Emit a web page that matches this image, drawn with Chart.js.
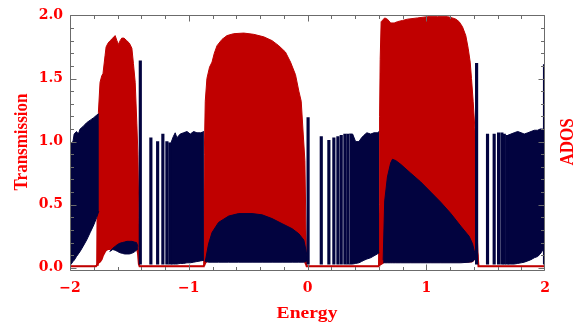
<!DOCTYPE html>
<html>
<head>
<meta charset="utf-8">
<script src="https://cdn.jsdelivr.net/npm/chart.js@4.4.1/dist/chart.umd.min.js"></script>
<style>
html,body{margin:0;padding:0;background:#fff;}
#wrap{width:576px;height:324px;position:relative;}
</style>
</head>
<body>
<div id="wrap"><canvas id="c" width="576" height="324"></canvas></div>
<script>
// ---------- tick labels ----------
const xTickValues = [-2, -1, 0, 1, 2];
const xTickLabels = ['\u22122', '\u22121', '0', '1', '2'];
const yTickValues = [0, 0.5, 1, 1.5, 2];
const yTickLabels = ['0.0', '0.5', '1.0', '1.5', '2.0'];

// ---------- Transmission (red): envelope of the rapidly oscillating curve ----------
const transE = [-2.000,-1.782,-1.775,-1.771,-1.766,-1.761,-1.747,-1.733,-1.722,-1.705,-1.696,-1.680,-1.662,-1.640,-1.620,-1.605,-1.592,-1.578,-1.564,-1.545,-1.522,-1.500,-1.479,-1.466,-1.451,-1.437,-1.428,-1.420,-1.414,
  -0.879,-0.874,-0.869,-0.861,-0.847,-0.825,-0.804,-0.785,-0.762,-0.720,-0.678,-0.622,-0.537,-0.453,-0.368,-0.298,-0.242,-0.186,-0.143,-0.101,-0.073,-0.053,-0.036,-0.022,-0.013,-0.007,
  0.598,0.603,0.607,0.612,0.620,0.650,0.673,0.700,0.730,0.757,0.800,0.841,0.926,1.010,1.095,1.179,1.221,1.250,1.277,1.305,1.333,1.353,1.370,1.381,1.395,1.409,1.424,1.432,1.440,2.000];
const transLow = [0.012,0.012,0.02,0.025,0.03,0.04,0.05,0.07,0.10,0.13,0.14,0.15,0.15,0.155,0.155,0.15,0.145,0.14,0.135,0.13,0.13,0.13,0.135,0.14,0.15,0.155,0.12,0.03,0.012,
  0.012,0.015,0.02,0.04,0.055,0.055,0.055,0.055,0.055,0.055,0.055,0.055,0.055,0.055,0.055,0.055,0.055,0.055,0.055,0.055,0.055,0.055,0.055,0.05,0.03,0.012,
  0.012,0.02,0.025,0.03,0.03,0.05,0.05,0.05,0.05,0.05,0.05,0.05,0.05,0.05,0.05,0.05,0.05,0.05,0.05,0.05,0.05,0.05,0.05,0.05,0.06,0.09,0.14,0.10,0.012,0.012];
const transHigh = [0.012,0.012,0.03,0.60,1.05,1.23,1.47,1.52,1.54,1.68,1.75,1.78,1.80,1.82,1.84,1.80,1.77,1.80,1.82,1.82,1.80,1.78,1.74,1.62,1.47,1.14,0.90,0.40,0.012,
  0.012,0.30,0.90,1.32,1.50,1.59,1.63,1.70,1.76,1.81,1.84,1.855,1.86,1.85,1.83,1.80,1.76,1.71,1.63,1.53,1.40,1.32,1.06,0.85,0.30,0.012,
  0.012,0.50,1.20,1.65,1.95,1.98,1.97,1.94,1.94,1.95,1.96,1.97,1.98,1.99,1.99,1.99,1.98,1.97,1.95,1.91,1.84,1.74,1.63,1.50,1.32,1.11,0.85,0.20,0.012,0.012];

// ---------- ADOS (navy): envelopes of the dense parts ----------
const adosA_E    = [-2.00,-1.99,-1.975,-1.965,-1.945,-1.93,-1.915,-1.89,-1.86,-1.83,-1.80,-1.775,-1.757];
const adosA_high = [0.97,0.99,1.00,1.06,1.08,1.06,1.10,1.12,1.15,1.17,1.19,1.21,1.22];
const adosA_low  = [0.02,0.03,0.05,0.06,0.09,0.11,0.13,0.17,0.22,0.28,0.34,0.40,0.45];

const adosB_E    = [-1.665,-1.64,-1.62,-1.60,-1.58,-1.56,-1.54,-1.52,-1.50,-1.48,-1.46,-1.44,-1.428];
const adosB_high = [0.13,0.155,0.17,0.185,0.195,0.20,0.205,0.21,0.21,0.21,0.205,0.20,0.17];
const adosB_low  = [0.13,0.145,0.14,0.13,0.12,0.115,0.11,0.11,0.11,0.115,0.125,0.14,0.15];

const adosC_E    = [-1.150,-1.13,-1.114,-1.10,-1.072,-1.044,-1.015,-0.987,-0.959,-0.931,-0.90,-0.872];
const adosC_high = [0.99,1.04,1.07,1.03,1.06,1.07,1.08,1.06,1.08,1.07,1.07,1.08];
const adosC_low  = [0.03,0.03,0.03,0.03,0.035,0.035,0.04,0.04,0.045,0.05,0.055,0.06];

const adosD_E    = [-0.861,-0.833,-0.804,-0.749,-0.664,-0.580,-0.467,-0.382,-0.298,-0.214,-0.129,-0.073,-0.031,-0.011,-0.003];
const adosD_high = [0.05,0.19,0.28,0.36,0.41,0.43,0.43,0.42,0.39,0.35,0.31,0.27,0.22,0.13,0.08];
const adosD_low  = [0.05,0.045,0.045,0.045,0.045,0.045,0.045,0.045,0.045,0.045,0.045,0.045,0.045,0.05,0.06];

const adosE_E    = [0.352,0.38,0.405,0.433,0.455,0.475,0.50,0.532,0.56,0.588,0.604];
const adosE_high = [1.06,1.06,1.00,1.00,1.03,1.05,1.07,1.06,1.07,1.07,1.08];
const adosE_low  = [0.03,0.03,0.035,0.04,0.05,0.06,0.07,0.08,0.095,0.11,0.12];

const adosF_E    = [0.637,0.650,0.673,0.700,0.715,0.743,0.785,0.869,0.954,1.038,1.122,1.207,1.291,1.361,1.390,1.403,1.418];
const adosF_high = [0.06,0.53,0.72,0.83,0.86,0.85,0.82,0.75,0.68,0.60,0.52,0.43,0.33,0.25,0.19,0.14,0.09];
const adosF_low  = [0.04,0.04,0.04,0.04,0.04,0.04,0.04,0.04,0.04,0.04,0.04,0.04,0.04,0.045,0.05,0.06,0.09];

const adosG_E    = [1.686,1.713,1.74,1.77,1.80,1.825,1.855,1.882,1.91,1.938,1.96,1.981,1.993];
const adosG_high = [1.05,1.06,1.07,1.08,1.07,1.06,1.07,1.08,1.09,1.09,1.10,1.10,1.11];
const adosG_low  = [0.03,0.03,0.03,0.035,0.04,0.045,0.055,0.065,0.08,0.09,0.11,0.14,0.17];

// isolated ADOS peaks inside the gaps
const spikeE    = [-1.408,-1.319,-1.262,-1.218,-1.184,-1.159,0.005,0.116,0.180,0.222,0.256,0.284,0.315,0.340,1.424,1.516,1.572,1.609,1.637,1.657,1.679,1.996];
const spikeTop  = [1.64,1.03,1.00,1.06,1.00,0.99,1.19,1.04,1.01,1.03,1.04,1.05,1.06,1.06,1.62,1.06,1.06,1.07,1.07,1.06,1.05,1.61];
const spikeBase = 0.03;

// ---------- styles ----------
const NAVY = '#02033f';
const RED = '#c00000';
const TEXT = '#ff0000';
const FRAME = '#6b6b6b';

const pts = (E, V) => E.map((e, i) => ({x: e, y: V[i]}));
const datasets = [];
datasets.push({type: 'line', label: 'T-low', data: pts(transE, transLow), borderColor: RED, borderWidth: 2,
  pointRadius: 0, tension: 0, fill: false, order: 100});
datasets.push({type: 'line', label: 'Transmission', data: pts(transE, transHigh), borderColor: RED, borderWidth: 1,
  backgroundColor: RED, pointRadius: 0, tension: 0, fill: 0, order: 99});

const adosBands = [
  [adosA_E, adosA_low, adosA_high], [adosB_E, adosB_low, adosB_high], [adosC_E, adosC_low, adosC_high],
  [adosD_E, adosD_low, adosD_high], [adosE_E, adosE_low, adosE_high], [adosF_E, adosF_low, adosF_high],
  [adosG_E, adosG_low, adosG_high]
];
adosBands.forEach(([E, lo, hi]) => {
  const iLow = datasets.length;
  datasets.push({type: 'line', label: 'A-low', data: pts(E, lo), borderColor: NAVY, borderWidth: 1,
    pointRadius: 0, tension: 0, fill: false, order: 50});
  datasets.push({type: 'line', label: 'ADOS', data: pts(E, hi), borderColor: NAVY, borderWidth: 1,
    backgroundColor: NAVY, pointRadius: 0, tension: 0, fill: iLow, order: 49});
});
datasets.push({type: 'bar', label: 'ADOS peaks', data: spikeE.map((e, i) => ({x: e, y: [spikeBase, spikeTop[i]]})),
  backgroundColor: NAVY, borderWidth: 0, barThickness: 2.5, grouped: false, order: 1});

const tickFont = {family: 'DejaVu Serif', weight: 'bold', size: 14};

const decor = {
  id: 'decor',
  afterDraw(chart) {
    const {ctx, chartArea: a, scales: {x, y}} = chart;
    ctx.save();
    ctx.strokeStyle = FRAME;
    ctx.lineWidth = 1;
    ctx.beginPath();
    const L = Math.round(a.left) + 0.5, R = Math.round(a.right) - 0.5;
    const T = Math.round(a.top) + 0.5, B = Math.round(a.bottom) - 0.5;
    for (let k = 0; k <= 20; k++) {
      const v = -2 + k * 0.2;
      let px = Math.round(x.getPixelForValue(v)) + 0.5;
      px = Math.min(Math.max(px, L), R);
      const len = (k % 5 === 0) ? 6 : 3.5;
      ctx.moveTo(px, B); ctx.lineTo(px, B - len);
      ctx.moveTo(px, T); ctx.lineTo(px, T + len);
    }
    for (let k = 0; k <= 20; k++) {
      const v = k * 0.1;
      const py = Math.round(y.getPixelForValue(v)) + 0.5;
      const len = (k % 5 === 0) ? 6 : 3.5;
      ctx.moveTo(L, py); ctx.lineTo(L + len, py);
      ctx.moveTo(R, py); ctx.lineTo(R - len, py);
    }
    ctx.rect(L, T, R - L, B - T);
    ctx.stroke();

    ctx.fillStyle = TEXT;
    ctx.font = 'bold 17px "Liberation Serif"';
    ctx.textAlign = 'center';
    ctx.textBaseline = 'alphabetic';
    const title = (txt, tx, ty, rot) => {
      ctx.save(); ctx.translate(tx, ty); ctx.scale(1.15, 1); ctx.rotate(rot);
      ctx.fillText(txt, 0, 0); ctx.restore();
    };
    title('Energy', 307, 318, 0);
    title('Transmission', 27, 142, -Math.PI / 2);
    title('ADOS', 573, 142, -Math.PI / 2);
    ctx.restore();
  }
};

new Chart(document.getElementById('c'), {
  type: 'line',
  data: {datasets},
  options: {
    responsive: false,
    devicePixelRatio: 1,
    animation: false,
    events: [],
    layout: {padding: {top: 13, right: 31, left: 0, bottom: 0}},
    plugins: {legend: {display: false}, tooltip: {enabled: false}},
    scales: {
      x: {
        type: 'linear', min: -2, max: 2, offset: false,
        grid: {display: false, drawTicks: false, offset: false}, border: {display: false},
        afterBuildTicks: s => { s.ticks = xTickValues.map(v => ({value: v})); },
        afterFit: s => { s.height = 53; },
        ticks: {callback: (v, i) => xTickLabels[i], font: tickFont, color: TEXT, padding: 9, maxRotation: 0, autoSkip: false}
      },
      y: {
        type: 'linear', min: -0.025, max: 2,
        grid: {display: false, drawTicks: false}, border: {display: false},
        afterBuildTicks: s => { s.ticks = yTickValues.map(v => ({value: v})); },
        afterFit: s => { s.width = 70; },
        ticks: {callback: (v, i) => yTickLabels[i], font: tickFont, color: TEXT, padding: 7, autoSkip: false}
      }
    }
  },
  plugins: [decor]
});
</script>
</body>
</html>
